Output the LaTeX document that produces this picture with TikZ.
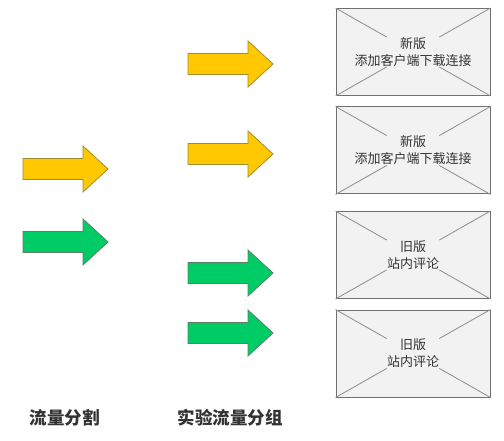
\documentclass[tikz,border=0pt]{standalone}
\usepackage{fontspec}
\newfontfamily\cjk{Noto Sans CJK SC}
\usetikzlibrary{calc}
\definecolor{arrowyellow}{HTML}{FFC800}
\definecolor{yellowedge}{HTML}{A08C30}
\definecolor{arrowgreen}{HTML}{00CC66}
\definecolor{greenedge}{HTML}{5C7F66}
\definecolor{boxfill}{HTML}{F2F2F2}
\definecolor{boxedge}{HTML}{707070}
\definecolor{crossgray}{HTML}{8C8C8C}
\definecolor{textgray}{HTML}{333333}
\def\bigarrow[#1](#2,#3){\draw[#1] (#2,#3-10.5) -- (#2+60,#3-10.5) -- (#2+60,#3-23) -- (#2+85,#3) -- (#2+60,#3+23) -- (#2+60,#3+10.5) -- (#2,#3+10.5) -- cycle;}
\def\boxcross(#1){%
  \draw[crossline] (#1.north west) -- ($(#1.north west)!0.33!(#1.south east)$);
  \draw[crossline] (#1.south east) -- ($(#1.south east)!0.33!(#1.north west)$);
  \draw[crossline] (#1.north east) -- ($(#1.north east)!0.33!(#1.south west)$);
  \draw[crossline] (#1.south west) -- ($(#1.south west)!0.33!(#1.north east)$);}
\tikzset{
  yellowarrow/.style={fill=arrowyellow, draw=yellowedge, line width=0.8bp},
  greenarrow/.style={fill=arrowgreen, draw=greenedge, line width=0.8bp},
  mockbox/.style={draw=boxedge, fill=boxfill, line width=1bp, minimum width=154bp, minimum height=87bp, inner sep=0pt},
  crossline/.style={draw=crossgray, line width=0.8bp},
  boxtext/.style={align=center, text=textgray, font=\cjk\fontsize{13bp}{17bp}\selectfont},
  title/.style={text=textgray, font=\cjk\bfseries\fontsize{17.5bp}{20bp}\selectfont}
}
\begin{document}
\begin{tikzpicture}[x=1bp, y=-1bp]
			\useasboundingbox (0,0) rectangle (504,441);
			
			% split arrows
			\bigarrow[yellowarrow](23,169)
			\bigarrow[greenarrow](23,242)
			
			% group arrows
			\bigarrow[yellowarrow](188,64)
			\bigarrow[yellowarrow](188,154)
			\bigarrow[greenarrow](188,273)
			\bigarrow[greenarrow](188,333)
			
			% mockups
			\node[mockbox] (newa) at (413,52) {};
			\boxcross(newa)
			\node[boxtext] (newatext) at (newa) {新版\\添加客户端下载连接};
			
			\node[mockbox] (newb) at (413,150.5) {};
			\boxcross(newb)
			\node[boxtext] (newbtext) at (newb) {新版\\添加客户端下载连接};
			
			\node[mockbox] (olda) at (413,255) {};
			\boxcross(olda)
			\node[boxtext] (oldatext) at (olda) {旧版\\站内评论};
			
			\node[mockbox] (oldb) at (413,353.5) {};
			\boxcross(oldb)
			\node[boxtext] (oldbtext) at (oldb) {旧版\\站内评论};
			
			% labels
			\node[title] (splitlabel) at (64.5,418) {流量分割};
			\node[title] (grouplabel) at (230,418) {实验流量分组};
\end{tikzpicture}
\end{document}
